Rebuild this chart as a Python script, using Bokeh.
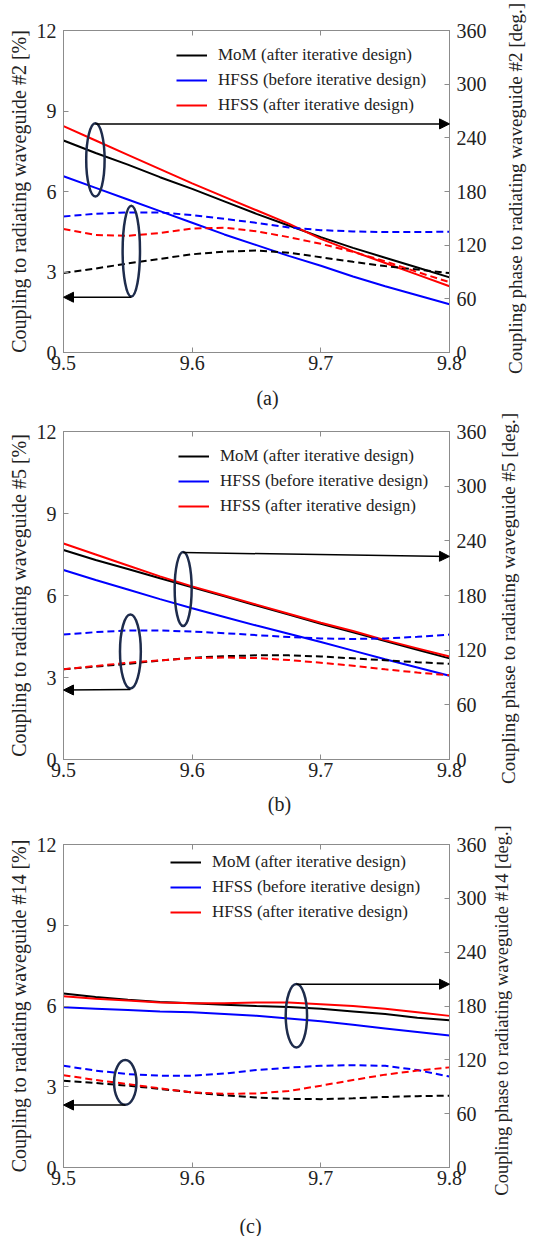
import math
from bokeh.plotting import figure
from bokeh.models import (Range1d, LinearAxis, FixedTicker, Legend, LegendItem,
                          Arrow, NormalHead, Label, CustomJSTickFormatter)
from bokeh.layouts import column
from bokeh.embed import file_html
from bokeh.resources import INLINE

# ---------------- data ----------------
freq = [9.5, 9.525, 9.55, 9.575, 9.6, 9.625, 9.65, 9.675, 9.7, 9.725, 9.75, 9.775, 9.8]
x_ticks = [9.5, 9.6, 9.7, 9.8]
mag_ticks = [0, 3, 6, 9, 12]
phase_ticks = [0, 60, 120, 180, 240, 300, 360]
series_names = ["MoM (after iterative design)", "HFSS (before iterative design)", "HFSS (after iterative design)"]
captions = ["(a)", "(b)", "(c)"]
waveguides = ["#2", "#5", "#14"]

# panel (a) - waveguide #2
a_phase_mom = [237, 223, 210, 196, 183, 169, 155, 142, 129, 117, 106, 95, 84]
a_phase_before = [197, 184, 171, 158, 145, 132, 120, 108, 97, 85, 74, 64, 54]
a_phase_after = [253, 237, 221, 205, 189, 174, 159, 144, 127, 113, 100, 87, 74]
a_mag_mom = [2.96, 3.13, 3.32, 3.49, 3.66, 3.76, 3.80, 3.72, 3.55, 3.38, 3.22, 3.09, 2.96]
a_mag_before = [5.07, 5.17, 5.22, 5.22, 5.12, 4.98, 4.83, 4.66, 4.56, 4.51, 4.49, 4.49, 4.50]
a_mag_after = [4.60, 4.38, 4.35, 4.45, 4.62, 4.65, 4.52, 4.30, 4.05, 3.75, 3.40, 3.00, 2.62]

# panel (b) - waveguide #5
b_phase_mom = [230, 219, 209, 199, 189, 179, 169, 159, 149, 139.5, 130, 120.5, 111]
b_phase_before = [208, 197, 186.5, 176, 166, 156.5, 147, 138, 129, 119.5, 110, 101, 92]
b_phase_after = [237, 225, 213, 201, 190, 180, 170, 160, 150, 141, 131, 122, 113]
b_mag_mom = [3.30, 3.40, 3.50, 3.62, 3.72, 3.78, 3.81, 3.81, 3.77, 3.70, 3.63, 3.56, 3.50]
b_mag_before = [4.57, 4.66, 4.72, 4.72, 4.68, 4.62, 4.55, 4.48, 4.43, 4.41, 4.43, 4.49, 4.57]
b_mag_after = [3.30, 3.42, 3.54, 3.63, 3.71, 3.73, 3.71, 3.64, 3.54, 3.43, 3.30, 3.18, 3.08]

# panel (c) - waveguide #14
c_phase_mom = [194, 190, 187, 184.5, 183, 181.5, 180, 179, 177, 174, 171, 167, 164]
c_phase_before = [178.5, 177, 175.5, 174, 173, 171, 169, 166, 163, 159, 155, 151, 147]
c_phase_after = [191, 188, 186, 184, 183, 183, 184, 184, 182, 180, 177, 173, 169]
c_mag_mom = [3.22, 3.14, 3.04, 2.92, 2.79, 2.68, 2.60, 2.55, 2.54, 2.57, 2.62, 2.65, 2.67]
c_mag_before = [3.78, 3.60, 3.47, 3.41, 3.41, 3.49, 3.62, 3.71, 3.78, 3.80, 3.78, 3.62, 3.38]
c_mag_after = [3.43, 3.25, 3.10, 2.94, 2.79, 2.74, 2.75, 2.84, 3.04, 3.25, 3.45, 3.60, 3.72]

colors = ["#000000", "#0000ff", "#ff0000"]
FONT = "Liberation Serif"
AX = "#8c8c8c"
TXT = "#222222"
ELL = "#1e2c4c"

panels = [
    dict(h=410, borders=(30, 76, 58, 63), legend=(113, 237),
         phase=[a_phase_mom, a_phase_before, a_phase_after],
         mag=[a_mag_mom, a_mag_before, a_mag_after],
         ell=[(9.5248, 7.18, 0.0143, 2.73), (9.5527, 3.78, 0.0135, 3.39)],
         arrows=[(9.5248, 8.52, 9.8, 8.52), (9.5527, 2.06, 9.5, 2.06)],
         cap=(267, 397), rlab=(515, 188), rfs="19px"),
    dict(h=410, borders=(21, 82, 61, 56), legend=(115, 243),
         phase=[b_phase_mom, b_phase_before, b_phase_after],
         mag=[b_mag_mom, b_mag_before, b_mag_after],
         ell=[(9.593, 6.24, 0.0132, 2.71), (9.552, 3.95, 0.0162, 2.71)],
         arrows=[(9.593, 7.57, 9.8, 7.43), (9.552, 2.56, 9.5, 2.54)],
         cap=(279, 393), rlab=(508, 188), rfs="19px"),
    dict(h=416, borders=(24, 90, 69, 58), legend=(107, 245),
         phase=[c_phase_mom, c_phase_before, c_phase_after],
         mag=[c_mag_mom, c_mag_before, c_mag_after],
         ell=[(9.681, 5.64, 0.0166, 2.36), (9.548, 3.16, 0.0174, 1.66)],
         arrows=[(9.681, 6.81, 9.8, 6.81), (9.548, 2.32, 9.5, 2.32)],
         cap=(250, 405), rlab=(501, 190), rfs="18.5px"),
]


def style_axis(ax):
    ax.axis_line_color = AX
    ax.major_tick_line_color = AX
    ax.major_tick_in = 5
    ax.major_tick_out = 0
    ax.minor_tick_line_color = None
    ax.major_label_text_font = FONT
    ax.major_label_text_font_size = "20px"
    ax.major_label_text_color = TXT
    ax.axis_label_text_font = FONT
    ax.axis_label_text_font_style = "normal"
    ax.axis_label_text_color = TXT


figs = []
for i, cfg in enumerate(panels):
    top, right, bottom, left = cfg["borders"]
    p = figure(width=539, height=cfg["h"], output_backend="svg", toolbar_location=None,
               x_range=Range1d(9.5, 9.8), y_range=Range1d(0, 12),
               min_border_top=top, min_border_right=right,
               min_border_bottom=bottom, min_border_left=left)
    p.extra_y_ranges = {"phase": Range1d(0, 360)}
    p.xgrid.visible = False
    p.ygrid.visible = False
    p.outline_line_color = AX
    p.background_fill_color = "white"
    p.border_fill_color = "white"

    p.xaxis.ticker = FixedTicker(ticks=x_ticks)
    p.yaxis.ticker = FixedTicker(ticks=mag_ticks)
    p.yaxis.axis_label = "Coupling to radiating waveguide " + waveguides[i] + " [%]"
    p.yaxis.axis_label_text_font_size = "20px"
    p.yaxis.axis_label_standoff = 4
    p.yaxis.major_label_standoff = 7
    p.xaxis.major_label_standoff = 3
    for ax in p.xaxis + p.yaxis:
        style_axis(ax)

    rax = LinearAxis(y_range_name="phase", ticker=FixedTicker(ticks=phase_ticks))
    style_axis(rax)
    rax.major_label_standoff = 7
    p.add_layout(rax, "right")

    tax = LinearAxis(ticker=FixedTicker(ticks=x_ticks),
                     formatter=CustomJSTickFormatter(code="return ''"))
    style_axis(tax)
    tax.major_label_standoff = 0
    p.add_layout(tax, "above")

    solid = []
    for vals, col in zip(cfg["phase"], colors):
        r = p.line(freq, vals, y_range_name="phase", line_color=col, line_width=2)
        solid.append(r)
    for vals, col in zip(cfg["mag"], colors):
        p.line(freq, vals, line_color=col, line_width=2, line_dash="7 4")

    ex = [e[0] for e in cfg["ell"]]
    ey = [e[1] for e in cfg["ell"]]
    ew = [e[2] for e in cfg["ell"]]
    eh = [e[3] for e in cfg["ell"]]
    p.ellipse(x=ex, y=ey, width=ew, height=eh, fill_color=None,
              line_color=ELL, line_width=2.5)

    for (x0, y0, x1, y1) in cfg["arrows"]:
        p.add_layout(Arrow(x_start=x0, y_start=y0, x_end=x1, y_end=y1,
                           line_color="black", line_width=1.5,
                           end=NormalHead(size=10, fill_color="black", line_color="black")))

    legend = Legend(items=[LegendItem(label=n, renderers=[r]) for n, r in zip(series_names, solid)],
                    location=cfg["legend"], label_text_font=FONT, label_text_font_size="17px",
                    label_text_color=TXT, label_standoff=11, glyph_width=31, glyph_height=20,
                    label_height=20, spacing=5, padding=0, margin=0,
                    border_line_color=None, background_fill_alpha=0)
    p.add_layout(legend, "center")

    rx, ry = cfg["rlab"]
    p.add_layout(Label(x=rx, y=ry, x_units="canvas", y_units="canvas", angle=math.pi / 2,
                       text="Coupling phase to radiating waveguide " + waveguides[i] + " [deg.]",
                       text_align="center", text_baseline="middle",
                       text_font=FONT, text_font_size=cfg["rfs"], text_color=TXT), "right")

    cx, cy = cfg["cap"]
    p.add_layout(Label(x=cx, y=cy, x_units="canvas", y_units="canvas", text=captions[i],
                       text_align="center", text_baseline="middle",
                       text_font=FONT, text_font_size="20px", text_color=TXT), "below")
    figs.append(p)

layout = column(*figs, spacing=0)
open("out.html", "w").write(file_html(layout, INLINE))
